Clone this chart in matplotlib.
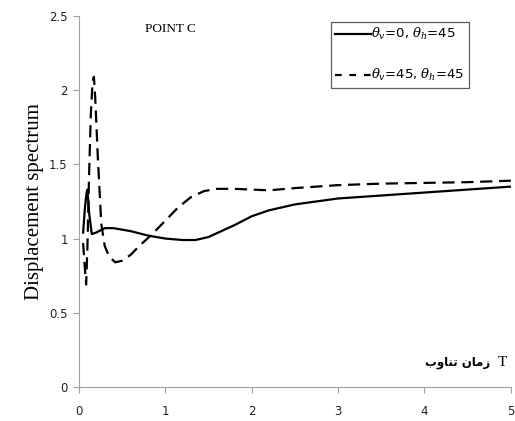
import matplotlib.pyplot as plt
from matplotlib.lines import Line2D

# period T (s) and displacement spectrum values
T_solid = [0.05, 0.07, 0.09, 0.1, 0.12, 0.15, 0.2, 0.3, 0.4, 0.6, 0.8, 1.0, 1.2, 1.35,
           1.5, 1.65, 1.8, 2.0, 2.2, 2.5, 3.0, 3.5, 4.0, 4.5, 5.0]
D_solid = [1.04, 1.2, 1.31, 1.33, 1.17, 1.03, 1.04, 1.07, 1.07, 1.05, 1.02, 1.0, 0.99, 0.99,
           1.01, 1.05, 1.09, 1.15, 1.19, 1.23, 1.27, 1.29, 1.31, 1.33, 1.35]

T_dash = [0.05, 0.07, 0.085, 0.1, 0.12, 0.14, 0.16, 0.175, 0.19, 0.22, 0.26, 0.3, 0.35,
          0.42, 0.5, 0.6, 0.7, 0.85, 1.0, 1.15, 1.3, 1.45, 1.6, 1.8, 2.0, 2.2, 2.5,
          3.0, 3.5, 4.0, 4.5, 5.0]
D_dash = [0.97, 0.8, 0.69, 0.95, 1.45, 1.85, 2.06, 2.09, 1.95, 1.55, 1.1, 0.95, 0.88,
          0.84, 0.85, 0.89, 0.95, 1.03, 1.12, 1.21, 1.28, 1.32, 1.335, 1.335, 1.33, 1.325, 1.34,
          1.36, 1.37, 1.375, 1.38, 1.39]

labels = [r'$\theta_v$=0, $\theta_h$=45', r'$\theta_v$=45, $\theta_h$=45']

plt.rcParams['mathtext.fontset'] = 'dejavuserif'

fig = plt.figure(figsize=(5.15, 4.21), dpi=100)
ax = fig.add_axes([0.153, 0.081, 0.839, 0.881])

ax.plot(T_solid, D_solid, color='black', lw=1.6)
ax.plot(T_dash, D_dash, color='black', lw=1.6, dashes=(5.5, 3))

ax.set_xlim(0, 5)
ax.set_ylim(0, 2.5)
ax.set_xticks([0, 1, 2, 3, 4, 5])
ax.set_yticks([0, 0.5, 1, 1.5, 2, 2.5])
ax.set_yticklabels(['0', '0.5', '1', '1.5', '2', '2.5'])

for s in ['top', 'right']:
    ax.spines[s].set_visible(False)
for s in ['left', 'bottom']:
    ax.spines[s].set_color('#a0a0a0')
ax.tick_params(direction='out', length=4, color='#a0a0a0', labelsize=8.5,
               labelcolor='#222222', pad=4)
ax.tick_params(axis='x', pad=9)

ax.set_ylabel('Displacement spectrum', family='Liberation Serif', fontsize=15, labelpad=4)

ax.text(0.153, 0.965, 'POINT C', transform=ax.transAxes, family='Liberation Serif',
        fontsize=9.5, ha='left', va='center')

# Persian axis caption "زمان تناوب T", glyphs written in visual order
fa = '\uFE8F\uFEED\uFE8E\uFEE8\uFE97 \uFEE5\uFE8E\uFEE3\uFEAF'
ax.text(0.952, 0.066, fa, transform=ax.transAxes, family=['DejaVu Sans'],
        fontsize=8.5, ha='right', va='center', fontweight='bold')
ax.text(0.99, 0.066, 'T', transform=ax.transAxes, family='Liberation Serif',
        fontsize=11, ha='right', va='center')

handles = [Line2D([], [], color='black', lw=1.6),
           Line2D([], [], color='black', lw=1.6, dashes=(3, 3.5))]
leg = ax.legend(handles, labels, loc='upper left', bbox_to_anchor=(0.583, 0.985),
                frameon=True, fancybox=False, fontsize=9.5, labelspacing=1.9,
                handlelength=2.7, handletextpad=0.0, borderpad=0.35, borderaxespad=0)
leg.get_frame().set_edgecolor('#333333')
leg.get_frame().set_linewidth(0.9)

fig.savefig('out.png', dpi=100)
